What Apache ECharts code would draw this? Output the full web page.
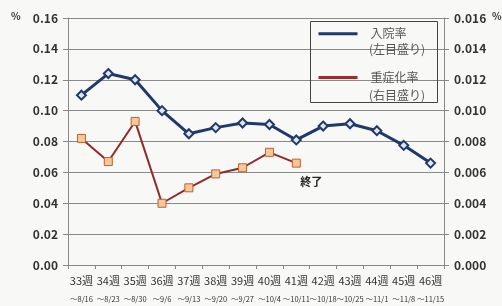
<!DOCTYPE html>
<html lang="ja">
<head>
  <meta charset="UTF-8">
  <title>入院率・重症化率</title>
  <script src="https://cdn.jsdelivr.net/npm/echarts@6/dist/echarts.min.js"></script>
  <style>
    html, body { margin: 0; padding: 0; background: #f8f8f6; }
    #chart { width: 502px; height: 306px; }
  </style>
</head>
<body>
  <div id="chart"></div>
  <script>
    // 週と期間
    var weeks = ['33週', '34週', '35週', '36週', '37週', '38週', '39週', '40週', '41週', '42週', '43週', '44週', '45週', '46週'];
    var periods = ['～8/16', '～8/23', '～8/30', '～9/6', '～9/13', '～9/20', '～9/27', '～10/4', '～10/11', '～10/18', '～10/25', '～11/1', '～11/8', '～11/15'];
    // 入院率（左目盛り）
    var hospRate = [0.110, 0.124, 0.120, 0.100, 0.085, 0.089, 0.092, 0.091, 0.081, 0.090, 0.0915, 0.087, 0.0775, 0.066];
    // 重症化率（右目盛り）
    var severeRate = [0.0082, 0.0067, 0.0093, 0.0040, 0.0050, 0.0059, 0.0063, 0.0073, 0.0066, null, null, null, null, null];
    var leftTicks = { min: 0, max: 0.16, interval: 0.02 };
    var rightTicks = { min: 0, max: 0.016, interval: 0.002 };

    var font = '"Noto Sans CJK JP", "Noto Sans", sans-serif';
    var blue = '#1f3a6a';
    var red = '#9b2d30';
    var chart = echarts.init(document.getElementById('chart'));

    var severeData = severeRate.map(function (v, i) {
      if (i === 8) {
        return {
          value: v,
          label: {
            show: true, position: 'bottom', offset: [15, 4],
            formatter: '終了', fontSize: 11, fontWeight: 'bold', color: '#222', fontFamily: font
          }
        };
      }
      return v;
    });

    chart.setOption({
      backgroundColor: '#f8f8f6',
      animation: false,
      textStyle: { fontFamily: font },
      grid: { left: 68, right: 58, top: 18, bottom: 41 },
      legend: {
        left: 317, top: 26,
        orient: 'vertical',
        padding: 0,
        itemGap: 28,
        itemWidth: 39, itemHeight: 17,
        itemStyle: { opacity: 0 },
        data: [
          { name: '入院率', lineStyle: { color: blue, width: 3 } },
          { name: '重症化率', lineStyle: { color: red, width: 3 } }
        ],
        textStyle: { fontSize: 12, color: '#555', padding: [0, 0, 0, 8] }
      },
      graphic: [
        { type: 'rect', shape: { x: 310.5, y: 21.5, width: 127, height: 81 },
          style: { fill: 'none', stroke: '#444', lineWidth: 1 }, z: 10 },
        { type: 'text', x: 369, y: 43, style: { text: '(左目盛り)', font: '12px ' + font, fill: '#555' }, z: 10 },
        { type: 'text', x: 369, y: 89, style: { text: '(右目盛り)', font: '12px ' + font, fill: '#555' }, z: 10 },
        { type: 'text', x: 11, y: 11, style: { text: '%', font: 'bold 10px ' + font, fill: '#333' } },
        { type: 'text', x: 492, y: 11, style: { text: '%', font: 'bold 10px ' + font, fill: '#333' } }
      ],
      xAxis: {
        type: 'category',
        data: weeks,
        boundaryGap: true,
        axisLine: { lineStyle: { color: '#888', width: 1 } },
        axisTick: { show: true, length: 4, lineStyle: { color: '#888' } },
        axisLabel: {
          interval: 0,
          margin: 7,
          formatter: function (v, i) { return '{w|' + v + '}\n{d|' + periods[i] + '}'; },
          rich: {
            w: { fontSize: 11, color: '#333', lineHeight: 18, fontFamily: font },
            d: { fontSize: 7.5, color: '#333', lineHeight: 18, fontFamily: font }
          }
        }
      },
      yAxis: [
        {
          type: 'value',
          min: leftTicks.min, max: leftTicks.max, interval: leftTicks.interval,
          axisLine: { show: true, lineStyle: { color: '#888' } },
          axisTick: { show: true, length: 5, lineStyle: { color: '#888' } },
          splitLine: { lineStyle: { color: '#8a8a8a', width: 1 } },
          axisLabel: {
            margin: 10, fontSize: 12, fontWeight: 'bold', color: '#333',
            formatter: function (v) { return v.toFixed(2); }
          }
        },
        {
          type: 'value',
          min: rightTicks.min, max: rightTicks.max, interval: rightTicks.interval,
          position: 'right',
          axisLine: { show: true, lineStyle: { color: '#888' } },
          axisTick: { show: true, length: 5, lineStyle: { color: '#888' } },
          splitLine: { show: false },
          axisLabel: {
            margin: 10, fontSize: 12, fontWeight: 'bold', color: '#333',
            formatter: function (v) { return v.toFixed(3); }
          }
        }
      ],
      series: [
        {
          name: '入院率',
          type: 'line',
          yAxisIndex: 0,
          data: hospRate,
          symbol: 'diamond',
          symbolSize: 9,
          lineStyle: { color: blue, width: 3 },
          itemStyle: { color: '#dfe6f0', borderColor: blue, borderWidth: 2 }
        },
        {
          name: '重症化率',
          type: 'line',
          yAxisIndex: 1,
          data: severeData,
          symbol: 'rect',
          symbolSize: 8,
          lineStyle: { color: '#8e2a2c', width: 2 },
          itemStyle: { color: '#f7c79c', borderColor: '#c0602a', borderWidth: 1 }
        }
      ]
    });
  </script>
</body>
</html>
